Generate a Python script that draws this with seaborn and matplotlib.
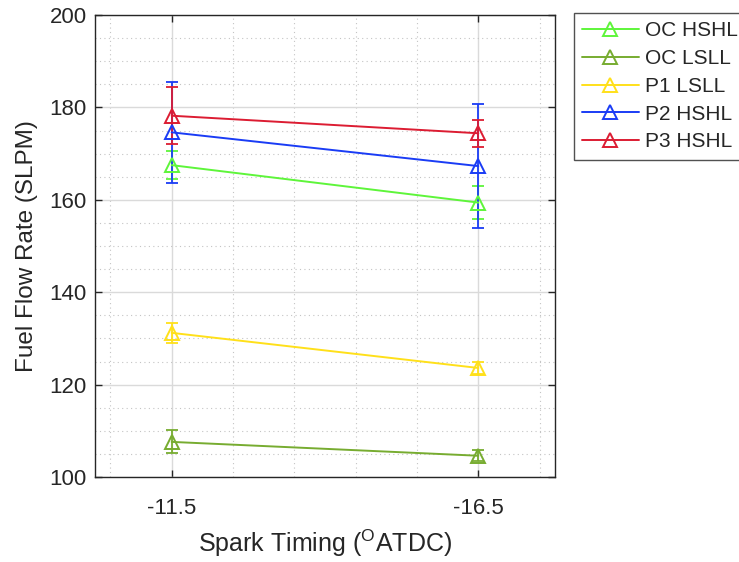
import matplotlib
matplotlib.use("Agg")
import matplotlib.pyplot as plt
import seaborn as sns
import pandas as pd
from matplotlib.ticker import MultipleLocator

sns.set_style("white")
plt.rcParams['font.family'] = ['Liberation Sans', 'DejaVu Sans']
plt.rcParams['mathtext.fontset'] = 'custom'
plt.rcParams['mathtext.rm'] = 'Liberation Sans'
plt.rcParams['mathtext.it'] = 'Liberation Sans'

timing_labels = ["-11.5", "-16.5"]
series = ["OC HSHL", "OC LSLL", "P1 LSLL", "P2 HSHL", "P3 HSHL"]
oc_hshl = [167.5, 159.4]
oc_lsll = [107.6, 104.6]
p1_lsll = [131.2, 123.6]
p2_hshl = [174.6, 167.3]
p3_hshl = [178.2, 174.4]
oc_hshl_err = [3.0, 3.6]
oc_lsll_err = [2.5, 1.2]
p1_lsll_err = [2.1, 1.3]
p2_hshl_err = [11.0, 13.5]
p3_hshl_err = [6.2, 2.9]
colors = ["#5EF53A", "#77AC30", "#FFE01A", "#1A3CF5", "#DC1C32"]

values = [oc_hshl, oc_lsll, p1_lsll, p2_hshl, p3_hshl]
errs = [oc_hshl_err, oc_lsll_err, p1_lsll_err, p2_hshl_err, p3_hshl_err]
xpos = [1, 2]

rows = []
for s, v in zip(series, values):
    for x, y in zip(xpos, v):
        rows.append({"series": s, "x": x, "y": y})
df = pd.DataFrame(rows)

fig = plt.figure(figsize=(7.39, 5.62), dpi=100)
ax = fig.add_axes([95/739, 1-477/562, (555-95)/739, (477-15)/562])

sns.lineplot(data=df, x="x", y="y", hue="series", hue_order=series,
             palette=colors, marker="^", markersize=10, markerfacecolor="none",
             markeredgewidth=1.4, linewidth=1.4, ax=ax, zorder=4, legend=False)
main_lines = list(ax.get_lines())
for line, c in zip(main_lines, colors):
    line.set_markeredgecolor(c)
    line.set_markerfacecolor("none")

for s, v, e, c in zip(series, values, errs, colors):
    ax.errorbar(xpos, v, yerr=e, fmt='none', ecolor=c, elinewidth=1.3,
                capsize=4.3, capthick=1.3, zorder=3)

ax.set_xlim(0.75, 2.25)
ax.set_ylim(100, 200)
ax.set_xticks(xpos)
ax.set_xticklabels(timing_labels)
ax.xaxis.set_minor_locator(MultipleLocator(0.2))
ax.set_yticks([100, 120, 140, 160, 180, 200])
ax.yaxis.set_minor_locator(MultipleLocator(5))

ax.grid(True, which='major', color='#dadada', linewidth=1.0, linestyle='-')
ax.grid(True, which='minor', color='#c4c4c4', linewidth=0.8, linestyle=(0, (1, 3)))
ax.set_axisbelow(True)

for sp in ax.spines.values():
    sp.set_color('#262626')
    sp.set_linewidth(1.0)
ax.tick_params(which='major', direction='in', length=5, width=1, top=True, right=True,
               bottom=True, left=True, labelsize=16, colors='#262626', pad=6)
ax.tick_params(axis='x', which='major', pad=15)
ax.tick_params(which='minor', length=0)

ax.set_xlabel(r"Spark Timing ($^{\mathrm{O}}$ATDC)", fontsize=18, color='#262626', labelpad=6)
ax.set_ylabel("Fuel Flow Rate (SLPM)", fontsize=17.5, color='#262626', labelpad=8)

leg = ax.legend(main_lines, series, loc='upper left', bbox_to_anchor=(574/739, 1-13/562),
                bbox_transform=fig.transFigure, fontsize=15, frameon=True, fancybox=False,
                edgecolor='#262626', handlelength=2.7, borderpad=0.4, labelspacing=0.42,
                handletextpad=0.3, borderaxespad=0)
leg.get_frame().set_linewidth(1.0)

fig.savefig("out.png", dpi=100)
